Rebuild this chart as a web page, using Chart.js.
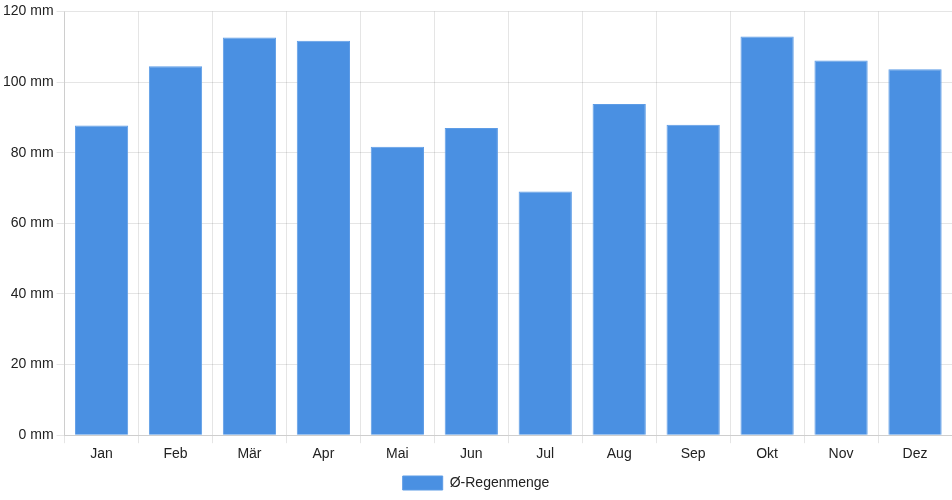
<!DOCTYPE html>
<html>
<head>
<meta charset="utf-8">
<script src="https://cdn.jsdelivr.net/npm/chart.js@4"></script>
<style>
  html, body { margin: 0; padding: 0; background: #fff; }
  #wrap { width: 952px; height: 500px; }
</style>
</head>
<body>
<div id="wrap"><canvas id="rain-chart" width="952" height="500"></canvas></div>
<script>
const months = ['Jan', 'Feb', 'Mär', 'Apr', 'Mai', 'Jun', 'Jul', 'Aug', 'Sep', 'Okt', 'Nov', 'Dez'];
const rainfall = [87.7, 104.5, 112.6, 111.7, 81.7, 87.0, 69.0, 93.8, 87.9, 112.9, 106.1, 103.6];
const seriesLabel = 'Ø-Regenmenge';

const ctx = document.getElementById('rain-chart').getContext('2d');
new Chart(ctx, {
    type: 'bar',
    data: {
        labels: months,
        datasets: [
            {
                label: seriesLabel,
                data: rainfall,
                backgroundColor: '#4a90e2',
                borderColor: '#5d9ce6',
                borderWidth: 1
            }
        ]
    },
    options: {
        responsive: false,
        animation: false,
        plugins: {
            legend: {
                position: 'bottom',
                labels: {
                    color: '#222',
                    boxWidth: 40,
                    boxHeight: 14,
                    font: { family: 'Liberation Sans', size: 14 }
                }
            },
            tooltip: { enabled: false }
        },
        scales: {
            y: {
                beginAtZero: true,
                min: 0,
                max: 120,
                ticks: {
                    stepSize: 20,
                    color: '#222',
                    font: { family: 'Liberation Sans', size: 14 },
                    callback: function(value) { return value + ' mm'; }
                },
                grid: { color: 'rgba(0,0,0,0.1)' }
            },
            x: {
                ticks: {
                    color: '#222',
                    font: { family: 'Liberation Sans', size: 14 }
                },
                grid: { color: 'rgba(0,0,0,0.1)' }
            }
        }
    }
});
</script>
</body>
</html>
